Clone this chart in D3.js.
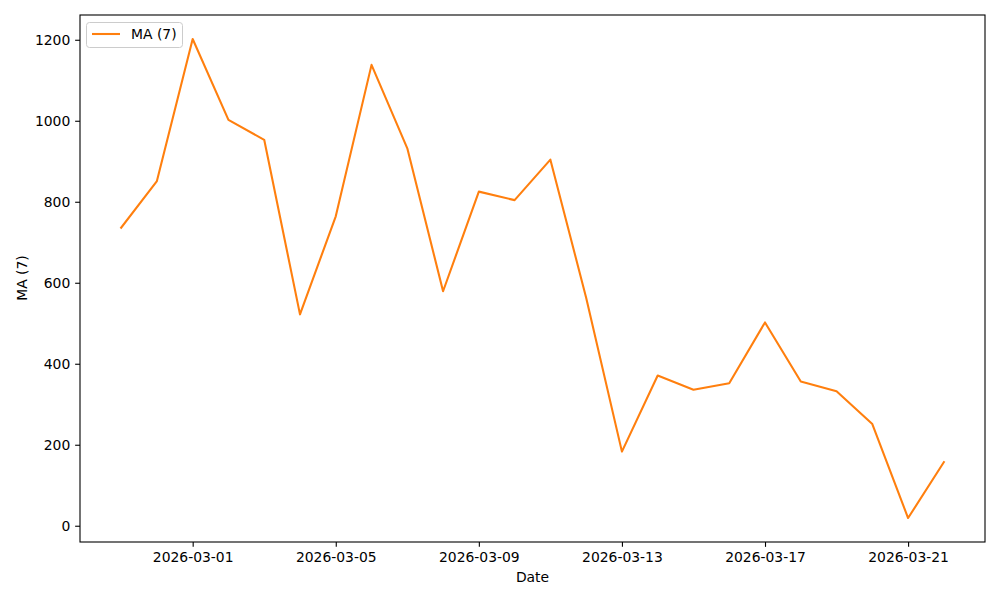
<!DOCTYPE html>
<html>
<head>
<meta charset="utf-8">
<script src="https://cdn.jsdelivr.net/npm/d3@7"></script>
<style>
html,body{margin:0;padding:0;background:#fff;}
svg{display:block;font-family:"DejaVu Sans",sans-serif;}
</style>
</head>
<body>
<svg id="chart" width="1000" height="600"></svg>
<script>
const dates = ["2026-02-27","2026-02-28","2026-03-01","2026-03-02","2026-03-03","2026-03-04","2026-03-05","2026-03-06","2026-03-07","2026-03-08","2026-03-09","2026-03-10","2026-03-11","2026-03-12","2026-03-13","2026-03-14","2026-03-15","2026-03-16","2026-03-17","2026-03-18","2026-03-19","2026-03-20","2026-03-21","2026-03-22"];
const ma7 = [736,851,1202,1002,953,522,764,1138,932,579,825,804,904,563,183,371,336,352,502,356,332,251,19,157];
const xTickLabels = ["2026-03-01","2026-03-05","2026-03-09","2026-03-13","2026-03-17","2026-03-21"];
const yTicks = [0,200,400,600,800,1000,1200];
const seriesName = "MA (7)";

const svg = d3.select("#chart");
const L = 80, R = 985, T = 15, B = 542;
const parse = d3.utcParse("%Y-%m-%d");
const data = dates.map((d,i)=>({date: parse(d), v: ma7[i]}));

const dExt = d3.extent(data, d=>d.date);
const span = dExt[1]-dExt[0];
const x = d3.scaleUtc().domain([new Date(+dExt[0]-span*0.05), new Date(+dExt[1]+span*0.05)]).range([L,R]);
const vExt = d3.extent(ma7);
const vs = vExt[1]-vExt[0];
const y = d3.scaleLinear().domain([vExt[0]-vs*0.05, vExt[1]+vs*0.05]).range([B,T]);

const fs = "13.9px";
const tk = 4.86;

const xAxis = d3.axisBottom(x).tickValues(xTickLabels.map(parse)).tickFormat(d3.utcFormat("%Y-%m-%d")).tickSize(tk).tickPadding(tk);
const gx = svg.append("g").attr("transform",`translate(0,${B})`).call(xAxis);
const yAxis = d3.axisLeft(y).tickValues(yTicks).tickFormat(d3.format("d")).tickSize(tk).tickPadding(tk);
const gy = svg.append("g").attr("transform",`translate(${L},0)`).call(yAxis);
[gx,gy].forEach(g=>{
  g.select(".domain").remove();
  g.selectAll(".tick line").attr("stroke","#000").attr("stroke-width",1.1);
  g.selectAll(".tick text").attr("fill","#000").style("font-size",fs).style("font-family","DejaVu Sans");
});

const line = d3.line().x(d=>x(d.date)).y(d=>y(d.v));
svg.append("path").datum(data).attr("d",line).attr("fill","none").attr("stroke","#ff7f0e").attr("stroke-width",2.08).attr("stroke-linejoin","round").attr("stroke-linecap","square");

svg.append("rect").attr("x",L).attr("y",T).attr("width",R-L).attr("height",B-T).attr("fill","none").attr("stroke","#000").attr("stroke-width",1.1);

svg.append("text").attr("x",(L+R)/2).attr("y",582).attr("text-anchor","middle").style("font-size",fs).text("Date");
svg.append("text").attr("transform","translate(27,278) rotate(-90)").attr("text-anchor","middle").style("font-size",fs).text("MA (7)");

const lg = svg.append("g");
lg.append("rect").attr("x",86.5).attr("y",22.5).attr("width",96).attr("height",25).attr("rx",3).attr("fill","#fff").attr("fill-opacity",0.8).attr("stroke","#ccc").attr("stroke-width",1);
lg.append("line").attr("x1",92).attr("x2",120).attr("y1",34).attr("y2",34).attr("stroke","#ff7f0e").attr("stroke-width",2.08);
lg.append("text").attr("x",131).attr("y",39).style("font-size",fs).text(seriesName);
</script>
</body>
</html>
